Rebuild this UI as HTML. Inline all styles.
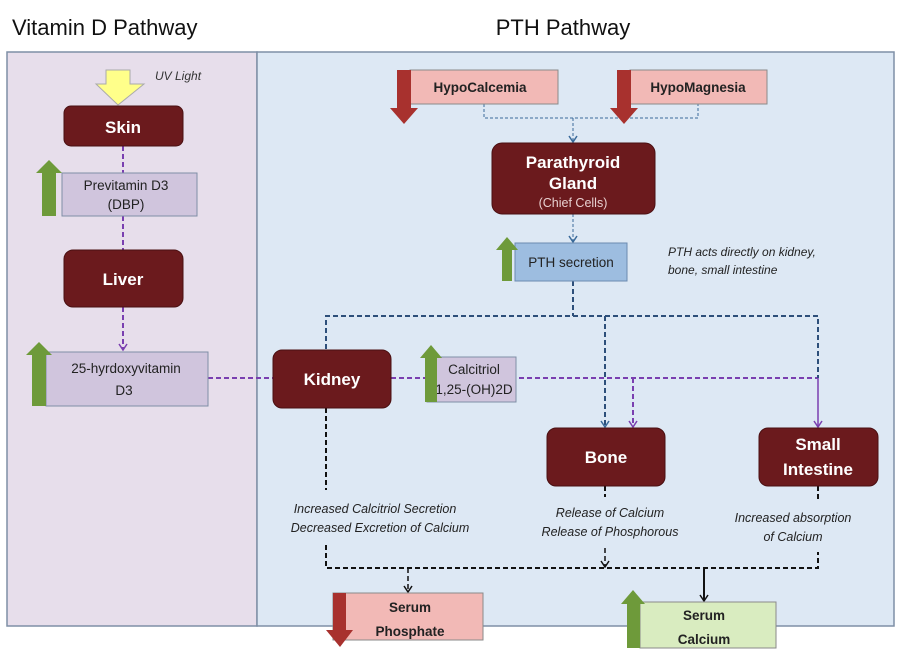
<!DOCTYPE html>
<html><head><style>
body{margin:0;background:#fff;}
svg{display:block;font-family:"Liberation Sans",sans-serif;}
.b{fill:#6b1a1d;stroke:#4a1012;stroke-width:1}
.w{fill:#fff;font-weight:bold;font-size:17px;text-anchor:middle}
.t{fill:#222;font-size:13.5px;text-anchor:middle}
.i{fill:#222;font-size:12.5px;font-style:italic;text-anchor:middle}
</style></head><body>
<svg width="900" height="664" viewBox="0 0 900 664">
<defs>
<marker id="ab" markerWidth="10" markerHeight="10" refX="8" refY="5" orient="auto" markerUnits="userSpaceOnUse"><path d="M2,1 L8,5 L2,9" fill="none" stroke="#3a6a9a" stroke-width="1.5"/></marker>
<marker id="ap" markerWidth="10" markerHeight="10" refX="8" refY="5" orient="auto" markerUnits="userSpaceOnUse"><path d="M2,1 L8,5 L2,9" fill="none" stroke="#7a3fb0" stroke-width="1.5"/></marker>
<marker id="ak" markerWidth="10" markerHeight="10" refX="8" refY="5" orient="auto" markerUnits="userSpaceOnUse"><path d="M2,1 L8,5 L2,9" fill="none" stroke="#111" stroke-width="1.5"/></marker>
</defs>
<text x="12" y="35" font-size="22" fill="#111">Vitamin D Pathway</text>
<text x="563" y="35" font-size="22" fill="#111" text-anchor="middle">PTH Pathway</text>
<rect x="7" y="52" width="250" height="574" fill="#e7deeb" stroke="#7f8fa6" stroke-width="1.5"/>
<rect x="257" y="52" width="637" height="574" fill="#dde8f4" stroke="#7f8fa6" stroke-width="1.5"/>

<polygon points="106,70 130,70 130,84 144,84 118,105 96,84 106,84" fill="#ffff8a" stroke="#aaa" stroke-width="1"/>
<text x="155" y="80" font-size="12" font-style="italic" fill="#333">UV Light</text>

<g stroke="#7a3fb0" stroke-width="2" stroke-dasharray="5,3" fill="none">
<line x1="123" y1="146" x2="123" y2="173"/>
<line x1="123" y1="216" x2="123" y2="250"/>
<line x1="123" y1="307" x2="123" y2="350" marker-end="url(#ap)"/>
<line x1="208" y1="378" x2="273" y2="378"/>
<line x1="391" y1="378" x2="818" y2="378"/>
<line x1="633" y1="378" x2="633" y2="427" marker-end="url(#ap)"/>
</g>
<line x1="818" y1="378" x2="818" y2="427" stroke="#7a3fb0" stroke-width="1.5" marker-end="url(#ap)"/>

<g stroke="#3a6a9a" stroke-width="1" stroke-dasharray="3,2" fill="none">
<polyline points="484,104 484,118 698,118 698,104"/>
<line x1="573" y1="118" x2="573" y2="142" marker-end="url(#ab)"/>
<line x1="573" y1="214" x2="573" y2="242" marker-end="url(#ab)"/>
</g>
<g stroke="#2d4f7a" stroke-width="2" stroke-dasharray="5,3" fill="none">
<line x1="573" y1="281" x2="573" y2="316"/>
<polyline points="326,349 326,316 818,316 818,378"/>
<line x1="605" y1="316" x2="605" y2="427" marker-end="url(#ab)"/>
</g>

<g stroke="#111" stroke-width="2" stroke-dasharray="5,3" fill="none">
<line x1="326" y1="408" x2="326" y2="490"/>
<line x1="605" y1="486" x2="605" y2="497"/>
<line x1="818" y1="486" x2="818" y2="500"/>
<polyline points="326,545 326,568 818,568 818,552"/>
<line x1="605" y1="548" x2="605" y2="567" stroke-width="1.5" marker-end="url(#ak)"/>
<line x1="408" y1="568" x2="408" y2="592" stroke-width="1.5" marker-end="url(#ak)"/>
</g>
<line x1="704" y1="568" x2="704" y2="601" stroke="#111" stroke-width="2" marker-end="url(#ak)"/>

<rect x="64" y="106" width="119" height="40" rx="7" class="b"/><text x="123" y="133" class="w">Skin</text>
<rect x="62" y="173" width="135" height="43" fill="#d0c5dd" stroke="#7f8fa6"/>
<text x="126" y="190" class="t">Previtamin D3</text><text x="126" y="209" class="t">(DBP)</text>
<polygon points="42,216 42,173 36,173 49,160 62,173 56,173 56,216" fill="#6e9a3a"/>
<rect x="64" y="250" width="119" height="57" rx="9" class="b"/><text x="123" y="285" class="w">Liver</text>
<rect x="46" y="352" width="162" height="54" fill="#d0c5dd" stroke="#7f8fa6"/>
<text x="126" y="373" class="t">25-hyrdoxyvitamin</text><text x="124" y="395" class="t">D3</text>
<polygon points="32,406 32,355 26,355 39,342 52,355 46,355 46,406" fill="#6e9a3a"/>

<rect x="410" y="70" width="148" height="34" fill="#f2b9b6" stroke="#8a8a8a"/><text x="480" y="92" class="t" font-weight="bold">HypoCalcemia</text>
<polygon points="397,70 411,70 411,108 418,108 404,124 390,108 397,108" fill="#a8312e"/>
<rect x="630" y="70" width="137" height="34" fill="#f2b9b6" stroke="#8a8a8a"/><text x="698" y="92" class="t" font-weight="bold">HypoMagnesia</text>
<polygon points="617,70 631,70 631,108 638,108 624,124 610,108 617,108" fill="#a8312e"/>
<rect x="492" y="143" width="163" height="71" rx="10" class="b"/>
<text x="573" y="168" class="w">Parathyroid</text><text x="573" y="189" class="w">Gland</text>
<text x="573" y="207" fill="#e8d0d0" font-size="12.5" text-anchor="middle">(Chief Cells)</text>
<rect x="515" y="243" width="112" height="38" fill="#9dbde0" stroke="#6a8ab0"/><text x="571" y="267" class="t">PTH secretion</text>
<polygon points="502,281 502,250 496,250 507,237 518,250 512,250 512,281" fill="#6e9a3a"/>
<text x="668" y="256" font-size="12" font-style="italic" fill="#222">PTH acts directly on kidney,</text>
<text x="668" y="274" font-size="12" font-style="italic" fill="#222">bone, small intestine</text>
<rect x="273" y="350" width="118" height="58" rx="9" class="b"/><text x="332" y="385" class="w">Kidney</text>
<rect x="427" y="357" width="89" height="45" fill="#d0c5dd" stroke="#7f8fa6"/>
<text x="474" y="374" class="t">Calcitriol</text><text x="474" y="394" class="t">1,25-(OH)2D</text>
<polygon points="425,402 425,358 420,358 431,345 442,358 437,358 437,402" fill="#6e9a3a"/>
<rect x="547" y="428" width="118" height="58" rx="9" class="b"/><text x="606" y="463" class="w">Bone</text>
<rect x="759" y="428" width="119" height="58" rx="9" class="b"/>
<text x="818" y="450" class="w">Small</text><text x="818" y="475" class="w">Intestine</text>
<text x="375" y="513" class="i">Increased Calcitriol Secretion</text>
<text x="380" y="532" class="i">Decreased Excretion of Calcium</text>
<text x="610" y="517" class="i">Release of Calcium</text>
<text x="610" y="536" class="i">Release  of Phosphorous</text>
<text x="793" y="522" class="i">Increased  absorption</text>
<text x="793" y="541" class="i">of Calcium</text>
<rect x="333" y="593" width="150" height="47" fill="#f2b9b6" stroke="#8a8a8a"/>
<text x="410" y="612" class="t" font-weight="bold" font-size="17">Serum</text><text x="410" y="636" class="t" font-weight="bold" font-size="17">Phosphate</text>
<polygon points="333,593 346,593 346,630 353,630 340,647 326,630 333,630" fill="#a8312e"/>
<rect x="640" y="602" width="136" height="46" fill="#d9ecc0" stroke="#8a8a8a"/>
<text x="704" y="620" class="t" font-weight="bold" font-size="17">Serum</text><text x="704" y="644" class="t" font-weight="bold" font-size="17">Calcium</text>
<polygon points="627,648 627,604 621,604 633,590 645,604 640,604 640,648" fill="#6e9a3a"/>
</svg>
</body></html>
